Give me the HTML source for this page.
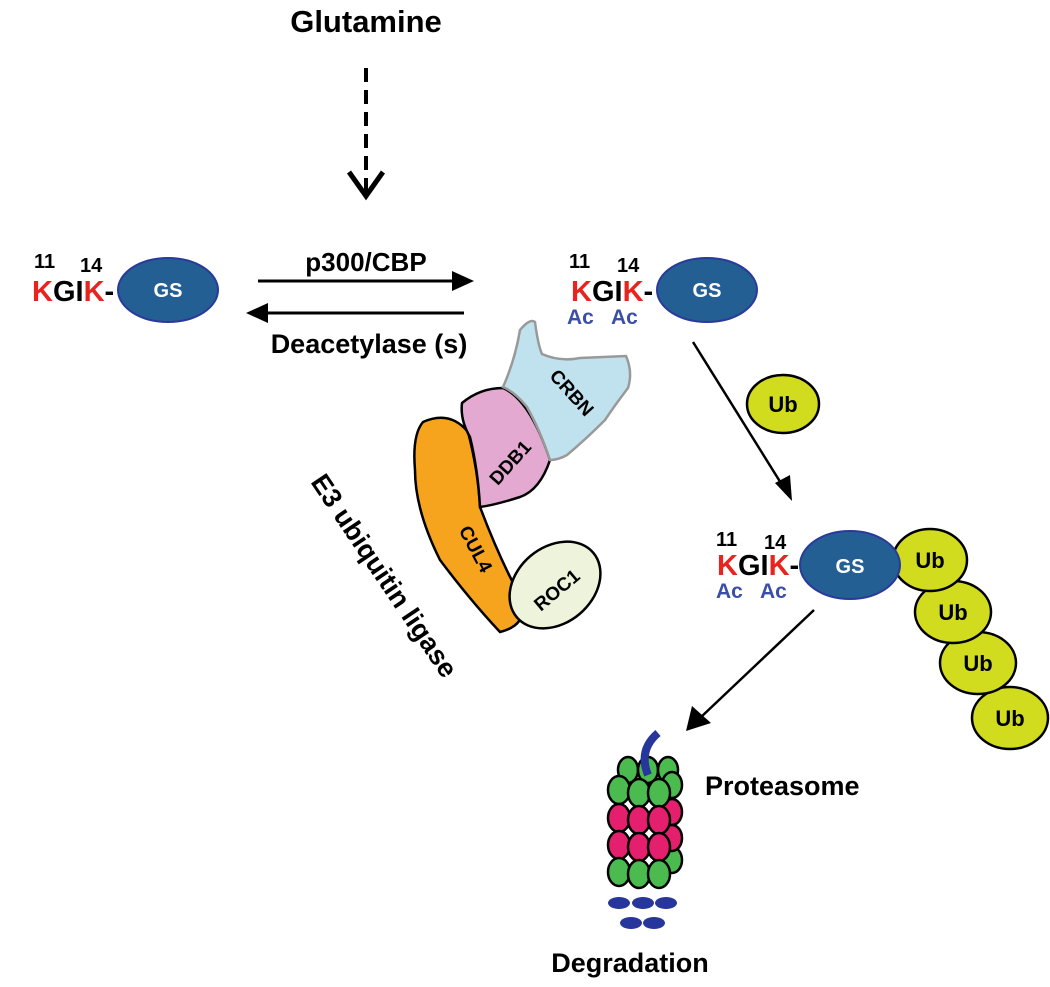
<!DOCTYPE html>
<html><head><meta charset="utf-8"><style>
html,body{margin:0;padding:0;background:#fff;}
svg text{font-family:"Liberation Sans",sans-serif;font-weight:bold;}
</style></head><body>
<svg width="1050" height="982" viewBox="0 0 1050 982" xmlns="http://www.w3.org/2000/svg">
<text x="366" y="32" font-size="31" text-anchor="middle">Glutamine</text>
<line x1="366" y1="68" x2="366" y2="195" stroke="#000" stroke-width="4" stroke-dasharray="14,8"/>
<path d="M349,172 L366,196 L383,172" fill="none" stroke="#000" stroke-width="5"/>

<!-- left GS -->
<text x="34" y="268" font-size="20">11</text>
<text x="80" y="272" font-size="20">14</text>
<text x="32" y="301" font-size="29"><tspan fill="#e8241f">K</tspan>GI<tspan fill="#e8241f">K</tspan>-</text>
<ellipse cx="168" cy="290" rx="50" ry="32" fill="#235f93" stroke="#2a3a9a" stroke-width="2"/>
<text x="168" y="297" font-size="20" fill="#fff" text-anchor="middle">GS</text>

<line x1="258" y1="281" x2="462" y2="281" stroke="#000" stroke-width="3"/>
<path d="M452,271 L474,281 L452,291z"/>
<line x1="464" y1="313" x2="256" y2="313" stroke="#000" stroke-width="3"/>
<path d="M268,303 L246,313 L268,323z"/>
<text x="366" y="271" font-size="26" text-anchor="middle">p300/CBP</text>
<text x="369" y="353" font-size="27" text-anchor="middle">Deacetylase (s)</text>

<!-- right GS -->
<text x="569" y="268" font-size="20">11</text>
<text x="617" y="272" font-size="20">14</text>
<text x="571" y="301" font-size="29"><tspan fill="#e8241f">K</tspan>GI<tspan fill="#e8241f">K</tspan>-</text>
<text x="567" y="324" font-size="21" fill="#3b4fa8">Ac</text>
<text x="611" y="324" font-size="21" fill="#3b4fa8">Ac</text>
<ellipse cx="707" cy="290" rx="50" ry="32" fill="#235f93" stroke="#2a3a9a" stroke-width="2"/>
<text x="707" y="297" font-size="20" fill="#fff" text-anchor="middle">GS</text>

<line x1="693" y1="342" x2="784" y2="488" stroke="#000" stroke-width="2.5"/>
<path d="M775,483 L792,501 L790,475z"/>
<ellipse cx="783" cy="404" rx="36" ry="29" fill="#d2dc1f" stroke="#000" stroke-width="2.5"/>
<text x="783" y="412" font-size="22" text-anchor="middle">Ub</text>

<!-- E3 complex -->
<path d="M423,422 Q450,410 468,432 Q478,470 480,507 Q500,560 522,600 Q528,625 500,632 Q470,600 440,560 Q415,510 415,470 Q412,435 423,422z" fill="#f6a41e" stroke="#000" stroke-width="2.5"/>
<path d="M462,403 Q480,388 503,388 Q530,400 550,460 Q540,490 520,497 Q495,505 480,507 Q478,470 470,437 Q460,420 462,403z" fill="#e3a9d1" stroke="#000" stroke-width="2.5"/>
<path d="M503,387 Q515,360 520,330 Q530,318 535,322 Q538,345 542,354 Q560,362 580,358 L626,356 Q633,372 628,388 Q615,405 605,420 Q585,440 567,455 Q558,460 550,460 Q540,430 527,407 Q515,392 503,387z" fill="#bfe2ee" stroke="#999" stroke-width="2.5"/>
<ellipse cx="555" cy="585" rx="50" ry="38" transform="rotate(-40 555 585)" fill="#eef3db" stroke="#000" stroke-width="2.5"/>
<text font-size="19" text-anchor="middle" transform="translate(567,397) rotate(48)">CRBN</text>
<text font-size="19" text-anchor="middle" transform="translate(515,467) rotate(-48)">DDB1</text>
<text font-size="19" text-anchor="middle" transform="translate(470,552) rotate(62)">CUL4</text>
<text font-size="19" text-anchor="middle" transform="translate(561,595) rotate(-40)">ROC1</text>
<text font-size="27" transform="translate(310,482) rotate(56)">E3 ubiquitin ligase</text>

<!-- lower GS + Ub chain -->
<ellipse cx="1010" cy="718" rx="38" ry="31" fill="#d2dc1f" stroke="#000" stroke-width="2.5"/>
<text x="1010" y="726" font-size="22" text-anchor="middle">Ub</text>
<ellipse cx="978" cy="663" rx="38" ry="31" fill="#d2dc1f" stroke="#000" stroke-width="2.5"/>
<text x="978" y="671" font-size="22" text-anchor="middle">Ub</text>
<ellipse cx="953" cy="612" rx="38" ry="31" fill="#d2dc1f" stroke="#000" stroke-width="2.5"/>
<text x="953" y="620" font-size="22" text-anchor="middle">Ub</text>
<ellipse cx="930" cy="560" rx="37" ry="31" fill="#d2dc1f" stroke="#000" stroke-width="2.5"/>
<text x="930" y="568" font-size="22" text-anchor="middle">Ub</text>
<text x="716" y="546" font-size="20">11</text>
<text x="764" y="549" font-size="20">14</text>
<text x="717" y="575" font-size="29"><tspan fill="#e8241f">K</tspan>GI<tspan fill="#e8241f">K</tspan>-</text>
<text x="716" y="598" font-size="21" fill="#3b4fa8">Ac</text>
<text x="760" y="598" font-size="21" fill="#3b4fa8">Ac</text>
<ellipse cx="850" cy="565" rx="50" ry="34" fill="#235f93" stroke="#2a3a9a" stroke-width="2"/>
<text x="850" y="573" font-size="20" fill="#fff" text-anchor="middle">GS</text>

<line x1="814" y1="610" x2="700" y2="718" stroke="#000" stroke-width="2.5"/>
<path d="M692,706 L686,731 L711,723z"/>

<!-- proteasome -->
<g stroke="#000" stroke-width="2.5">
<g fill="#4cbb4f">
<ellipse cx="628" cy="770" rx="10" ry="13"/><ellipse cx="648" cy="770" rx="10" ry="13"/><ellipse cx="668" cy="770" rx="10" ry="13"/>
<ellipse cx="672" cy="785" rx="10" ry="13"/>
<ellipse cx="672" cy="860" rx="10" ry="13"/>
</g>
<g fill="#e4206e">
<ellipse cx="672" cy="812" rx="10" ry="13"/><ellipse cx="672" cy="838" rx="10" ry="13"/>
</g>
<g fill="#4cbb4f">
<ellipse cx="619" cy="790" rx="11" ry="14"/><ellipse cx="639" cy="793" rx="11" ry="14"/><ellipse cx="659" cy="793" rx="11" ry="14"/>
</g>
<g fill="#e4206e">
<ellipse cx="619" cy="818" rx="11" ry="14"/><ellipse cx="639" cy="820" rx="11" ry="14"/><ellipse cx="659" cy="820" rx="11" ry="14"/>
<ellipse cx="619" cy="845" rx="11" ry="14"/><ellipse cx="639" cy="847" rx="11" ry="14"/><ellipse cx="659" cy="847" rx="11" ry="14"/>
</g>
<g fill="#4cbb4f">
<ellipse cx="619" cy="872" rx="11" ry="14"/><ellipse cx="639" cy="874" rx="11" ry="14"/><ellipse cx="659" cy="874" rx="11" ry="14"/>
</g>
</g>
<path d="M648,775 Q638,750 658,733" fill="none" stroke="#27369a" stroke-width="8"/>
<g fill="#27369a">
<ellipse cx="619" cy="903" rx="11" ry="6"/><ellipse cx="643" cy="903" rx="11" ry="6"/><ellipse cx="666" cy="903" rx="11" ry="6"/>
<ellipse cx="631" cy="923" rx="11" ry="6"/><ellipse cx="654" cy="923" rx="11" ry="6"/>
</g>
<text x="705" y="795" font-size="27">Proteasome</text>
<text x="630" y="972" font-size="27" text-anchor="middle">Degradation</text>
</svg>
</body></html>
